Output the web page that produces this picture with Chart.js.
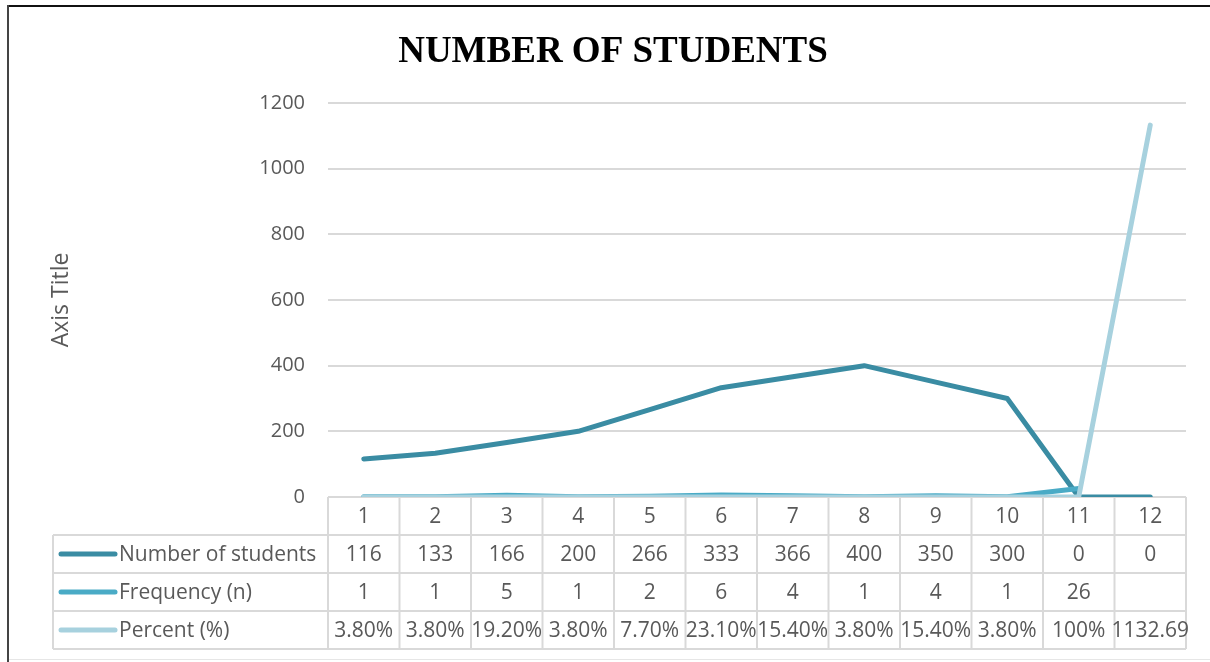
<!DOCTYPE html>
<html>
<head>
<meta charset="utf-8">
<script src="https://cdn.jsdelivr.net/npm/chart.js@4"></script>
<style>
  html, body { margin: 0; padding: 0; background: #fff; }
  #wrap { position: relative; width: 1210px; height: 662px; }
</style>
</head>
<body>
<div id="wrap"><canvas id="studentsChart"></canvas></div>
<script>
// categories and series
const categories = ['1', '2', '3', '4', '5', '6', '7', '8', '9', '10', '11', '12'];
const studentCounts = [116, 133, 166, 200, 266, 333, 366, 400, 350, 300, 0, 0];
const frequencyValues = [1, 1, 5, 1, 2, 6, 4, 1, 4, 1, 26, null];
const percentValues = [0.038, 0.038, 0.192, 0.038, 0.077, 0.231, 0.154, 0.038, 0.154, 0.038, 1, 1132.69];
const percentLabels = ['3.80%', '3.80%', '19.20%', '3.80%', '7.70%', '23.10%', '15.40%', '3.80%', '15.40%', '3.80%', '100%', '1132.69'];
const yTicks = [0, 200, 400, 600, 800, 1000, 1200];

const textColor = '#595959';
const gridColor = '#d9d9d9';
const fontFamily = '"Open Sans", "Noto Sans", sans-serif';

const seriesColors = {
  students: '#3a8ca3',
  frequency: '#4aabc6',
  percent: '#a7d1de'
};

// table rows under the plot (Excel style data table)
const tableRows = [
  { name: 'Number of students', color: seriesColors.students, cells: studentCounts.map(v => String(v)) },
  { name: 'Frequency (n)', color: seriesColors.frequency, cells: frequencyValues.map(v => v === null ? '' : String(v)) },
  { name: 'Percent (%)', color: seriesColors.percent, cells: percentLabels }
];

const dataTablePlugin = {
  id: 'dataTable',
  afterDraw(chart) {
    const ctx = chart.ctx;
    const xScale = chart.scales.x;
    const area = chart.chartArea;
    const rowH = 38;
    const tableLeft = 53;
    const top = area.bottom;
    const half = (xScale.getPixelForValue(1) - xScale.getPixelForValue(0)) / 2;

    ctx.save();
    ctx.strokeStyle = gridColor;
    ctx.lineWidth = 2;

    // horizontal lines
    for (let r = 1; r <= tableRows.length + 1; r++) {
      const y = top + r * rowH;
      ctx.beginPath();
      ctx.moveTo(tableLeft, y);
      ctx.lineTo(area.right, y);
      ctx.stroke();
    }
    // vertical lines
    const bottom = top + (tableRows.length + 1) * rowH;
    ctx.beginPath();
    ctx.moveTo(tableLeft, top + rowH);
    ctx.lineTo(tableLeft, bottom);
    ctx.stroke();
    for (let i = 0; i <= categories.length; i++) {
      const x = i < categories.length ? xScale.getPixelForValue(i) - half : xScale.getPixelForValue(i - 1) + half;
      ctx.beginPath();
      ctx.moveTo(x, top);
      ctx.lineTo(x, bottom);
      ctx.stroke();
    }

    ctx.font = '21px ' + fontFamily;
    ctx.fillStyle = textColor;
    ctx.textBaseline = 'middle';
    ctx.textAlign = 'center';

    // category row
    categories.forEach((c, i) => {
      ctx.fillText(c, xScale.getPixelForValue(i), top + rowH / 2 + 1);
    });

    // series rows
    tableRows.forEach((row, r) => {
      const cy = top + (r + 1) * rowH + rowH / 2 + 1;
      ctx.textAlign = 'center';
      ctx.fillStyle = textColor;
      row.cells.forEach((txt, i) => {
        ctx.fillText(txt, xScale.getPixelForValue(i), cy);
      });
      // legend key
      ctx.strokeStyle = row.color;
      ctx.lineWidth = 5;
      ctx.lineCap = 'round';
      ctx.beginPath();
      ctx.moveTo(61, cy - 1);
      ctx.lineTo(115, cy - 1);
      ctx.stroke();
      ctx.textAlign = 'left';
      ctx.fillText(row.name, 119, cy);
    });
    ctx.restore();
  }
};

const framePlugin = {
  id: 'frame',
  afterDraw(chart) {
    const ctx = chart.ctx;
    ctx.save();
    ctx.fillStyle = '#111';
    ctx.fillRect(7, 5, chart.width - 7, 2);
    ctx.fillStyle = '#444';
    ctx.fillRect(7, 5, 2, chart.height - 5);
    ctx.fillStyle = '#e6e6e6';
    ctx.fillRect(9, 659, chart.width - 9, 1);
    ctx.restore();
  }
};

new Chart(document.getElementById('studentsChart'), {
  type: 'line',
  data: {
    labels: categories,
    datasets: [
      { label: 'Number of students', data: studentCounts, borderColor: seriesColors.students, order: 2 },
      { label: 'Frequency (n)', data: frequencyValues, borderColor: seriesColors.frequency, order: 1 },
      { label: 'Percent (%)', data: percentValues, borderColor: seriesColors.percent, order: 0 }
    ]
  },
  options: {
    responsive: true,
    maintainAspectRatio: false,
    animation: false,
    layout: { padding: { left: 40, right: 24, top: 0, bottom: 165 } },
    elements: {
      line: { borderWidth: 5, tension: 0, borderCapStyle: 'round', borderJoinStyle: 'round' },
      point: { radius: 0, hoverRadius: 0 }
    },
    plugins: {
      legend: { display: false },
      tooltip: { enabled: false },
      title: {
        display: true,
        text: 'NUMBER OF STUDENTS',
        color: '#000',
        font: { family: '"Liberation Serif", "Times New Roman", serif', size: 37, weight: 'bold', lineHeight: 1.2 },
        padding: { top: 30, bottom: 28.6 }
      }
    },
    scales: {
      x: {
        display: false,
        offset: true
      },
      y: {
        min: 0,
        max: 1200,
        afterBuildTicks(scale) {
          scale.ticks = yTicks.map(v => ({ value: v }));
        },
        afterFit(scale) {
          scale.width = 288;
        },
        ticks: {
          color: textColor,
          font: { family: fontFamily, size: 20 },
          padding: 23,
          callback: v => String(v)
        },
        grid: { color: gridColor, lineWidth: 2, drawTicks: false },
        border: { display: false },
        title: {
          display: true,
          text: 'Axis Title',
          color: textColor,
          font: { family: fontFamily, size: 23 },
          padding: { top: 8, bottom: 0 }
        }
      }
    }
  },
  plugins: [dataTablePlugin, framePlugin]
});
</script>
</body>
</html>
